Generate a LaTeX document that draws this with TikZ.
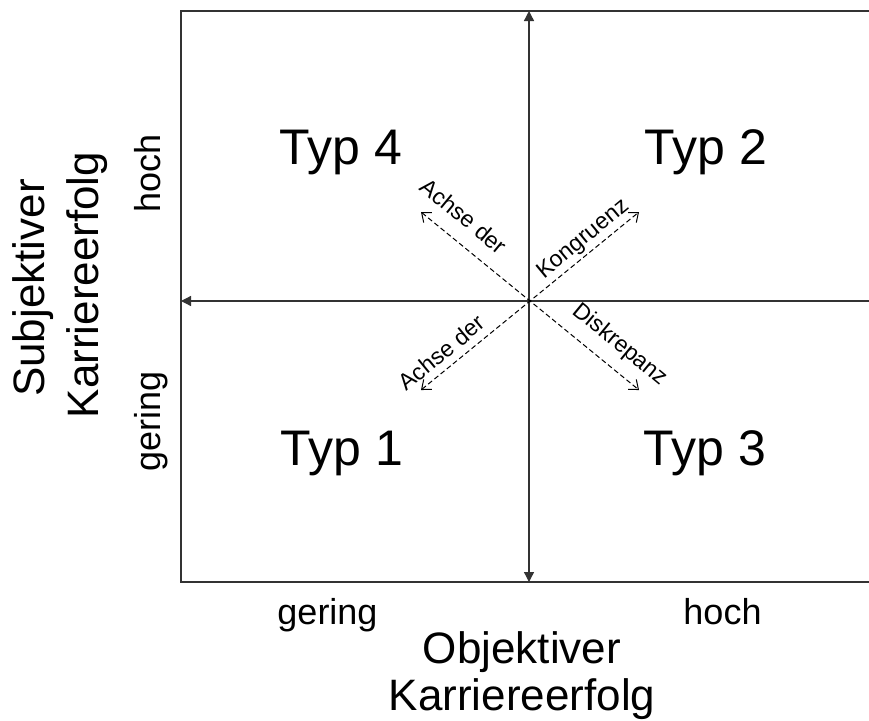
\documentclass[tikz,border=0pt]{standalone}
\usepackage{fontspec}
\setmainfont{Liberation Sans}
\usetikzlibrary{arrows.meta}
\begin{document}
\begin{tikzpicture}[x=1pt,y=-1pt,
    boxline/.style={line width=1.5pt, black!80},
    axisline/.style={line width=1.3pt, black!80},
    diagaxis/.style={line width=1pt, dash pattern=on 5pt off 3pt,
      {Straight Barb[length=8pt,width=13pt]}-{Straight Barb[length=8pt,width=13pt]}},
    typlabel/.style={font=\fontsize{50}{60}\selectfont, anchor=base, inner sep=0pt},
    titlelabel/.style={font=\fontsize{44}{52}\selectfont, anchor=base, inner sep=0pt},
    levellabel/.style={font=\fontsize{36}{42}\selectfont, anchor=base, inner sep=0pt},
    diaglabel/.style={font=\fontsize{23}{27}\selectfont, inner sep=0pt}]
    \useasboundingbox (0,0) rectangle (869,720);
    % frame corners and axis ends
    \coordinate (tl) at (181,11);
    \coordinate (bl) at (181,582);
    \coordinate (tr) at (869,11);
    \coordinate (br) at (869,582);
    \coordinate (N) at (529,11);
    \coordinate (S) at (529,582);
    \coordinate (W) at (181,301);
    \coordinate (E) at (869,301);
    \coordinate (ul) at (421,212);
    \coordinate (ur) at (639,212);
    \coordinate (ll) at (421,390);
    \coordinate (lr) at (639,390);
    \draw[boxline] (tr) -- (tl) -- (bl) -- (br);
    \draw[axisline, -{Triangle[length=10pt,width=10pt]}] (E) -- (W);
    \draw[axisline, {Triangle[length=10pt,width=10pt]}-{Triangle[length=10pt,width=10pt]}] (S) -- (N);
    \draw[diagaxis] (ll) -- (ur);
    \draw[diagaxis] (ul) -- (lr);
    % quadrants
    \node[typlabel] (typ4) at (341,164) {Typ 4};
    \node[typlabel] (typ2) at (706,164) {Typ 2};
    \node[typlabel] (typ1) at (342,465) {Typ 1};
    \node[typlabel] (typ3) at (705,465) {Typ 3};
    % diagonal labels
    \node[diaglabel, rotate=-39.5] (achseul) at (464,216) {Achse der};
    \node[diaglabel, rotate=39.5] (kongr) at (583.5,239.5) {Kongruenz};
    \node[diaglabel, rotate=39.5] (achsell) at (441.5,352.5) {Achse der};
    \node[diaglabel, rotate=-39.5] (diskr) at (620,345) {Diskrepanz};
    % axis levels
    \node[levellabel, rotate=90] (yhoch) at (160,173.5) {hoch};
    \node[levellabel, rotate=90] (ygering) at (160,421) {gering};
    \node[levellabel] (xgering) at (327.5,624) {gering};
    \node[levellabel] (xhoch) at (722.5,624) {hoch};
    % axis titles
    \node[titlelabel, rotate=90] (ytitlea) at (44,288) {Subjektiver};
    \node[titlelabel, rotate=90] (ytitleb) at (98,285) {Karriereerfolg};
    \node[titlelabel] (xtitlea) at (522,663) {Objektiver};
    \node[titlelabel] (xtitleb) at (522,710) {Karriereerfolg};
  \end{tikzpicture}
\end{document}
